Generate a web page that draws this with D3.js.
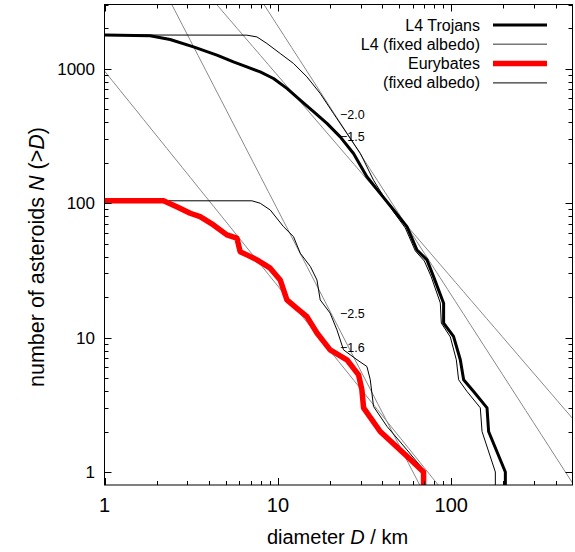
<!DOCTYPE html>
<html>
<head>
<meta charset="utf-8">
<script src="https://cdn.jsdelivr.net/npm/d3@7"></script>
<style>
  html, body { margin: 0; padding: 0; background: #fff; }
  svg { display: block; font-family: "Liberation Sans", Arial, Helvetica, sans-serif; }
</style>
</head>
<body>
<svg id="chart" width="575" height="552"></svg>
<script>
// Cumulative size distributions N(>D) — diameter D in km, count N
const l4Diam  = [1, 1.83, 2.39, 3.26, 4.45, 5.54, 6.62, 7.91, 9.43, 11.27, 13.45, 16.05, 19.18, 22.88, 27.3, 32.6, 38.9, 46.5, 55.5, 63.4, 72.4, 79.0, 90.3, 90.3, 103, 112.7, 117.8, 134.5, 160.7, 164.1, 205, 205];
const l4Count = [1780, 1754, 1648, 1452, 1260, 1123, 1031, 946, 845, 713, 583, 478, 392, 311, 234, 157, 118, 88.9, 66.8, 44.8, 37.8, 28.4, 18.0, 12.8, 10.2, 6.83, 4.85, 3.97, 3, 2, 1, 0.5];

const l4FixDiam  = [1, 6.62, 7.57, 8.64, 10.31, 12.3, 14.7, 17.54, 20.9, 25.0, 29.9, 35.6, 38.9, 46.5, 54.3, 62.0, 69.9, 76.7, 86.4, 87.6, 98.7, 106.9, 110.2, 123.2, 147, 150.4, 179.5, 179.5];
const l4FixCount = [1780, 1775, 1722, 1539, 1297, 1093, 869, 654, 465, 330, 234, 148, 123, 85.9, 65.3, 44.1, 37.1, 28.2, 18.1, 12.8, 10.1, 6.83, 4.85, 3.97, 3, 2, 1, 0.5];

const eurDiam  = [1, 2.19, 2.61, 3.12, 3.56, 4.25, 5.08, 5.80, 6.06, 6.62, 7.57, 9.03, 10.31, 11.27, 12.87, 14.7, 16.8, 20.0, 25.0, 29.2, 30.5, 31.2, 38.9, 55.5, 69.2, 69.2];
const eurCount = [104, 104, 94, 84, 79.2, 68.8, 58.0, 54.8, 43.5, 41.2, 37.8, 32.8, 26.8, 19.05, 16.5, 14.3, 10.8, 8.1, 6.83, 5.28, 4.09, 3, 2, 1.31, 1, 0.5];

const eurFixDiam  = [1, 7.08, 7.91, 9.03, 10.77, 12.3, 13.45, 15.4, 16.8, 17.54, 20.0, 21.9, 23.9, 28.6, 32.6, 34.1, 35.6, 42.6, 55.5, 70.8, 70.8];
const eurFixCount = [104, 104, 99.7, 88.9, 66.8, 56.3, 42.4, 33.7, 26.8, 19.05, 15.2, 11.4, 8.1, 6.83, 6.09, 4.85, 3.07, 2.18, 1.46, 1, 0.5];

// Power-law reference lines N = coef * D^slope
const fitSlopes = [-2.0, -1.5, -2.5, -1.6];
const fitCoefs  = [207000, 28000, 28000, 960];
const fitLabels = ["\u22122.0", "\u22121.5", "\u22122.5", "\u22121.6"];

// Axis ticks
const xMajorTicks = [1, 10, 100];
const yMajorTicks = [1, 10, 100, 1000];

const legendLabels = ["L4 Trojans", "L4 (fixed albedo)", "Eurybates", "(fixed albedo)"];

(function draw() {
  const svg = d3.select("#chart");
  const pL = 104.5, pR = 572.5, pT = 4.5, pB = 485;

  const x = d3.scaleLog().domain([1, 500]).range([pL, pR]);
  const y = d3.scaleLog().domain([0.8, 3000]).range([pB, pT]);

  svg.append("clipPath").attr("id", "plotClip")
    .append("rect").attr("x", pL).attr("y", pT)
    .attr("width", pR - pL).attr("height", pB - pT);

  const plot = svg.append("g").attr("clip-path", "url(#plotClip)");

  // Reference power laws across the full diameter range
  const line = d3.line().x(d => x(d[0])).y(d => y(d[1]));
  fitSlopes.forEach((k, i) => {
    const pts = d3.range(0, 61).map(j => {
      const D = Math.pow(10, j * Math.log10(500) / 60);
      return [D, fitCoefs[i] * Math.pow(D, k)];
    });
    plot.append("path").attr("d", line(pts))
      .attr("fill", "none").attr("stroke", "#888").attr("stroke-width", 1);
  });

  function series(ds, ns, color, width) {
    const pts = ds.map((d, i) => [d, ns[i]]);
    plot.append("path").attr("d", line(pts))
      .attr("fill", "none").attr("stroke", color).attr("stroke-width", width)
      .attr("stroke-linejoin", "round");
  }
  series(l4FixDiam, l4FixCount, "#000", 1);
  series(eurFixDiam, eurFixCount, "#000", 1);
  series(l4Diam, l4Count, "#000", 3);
  series(eurDiam, eurCount, "#f00", 5.5);

  // Slope annotations
  const labelPos = [[340, 119], [340, 141], [340, 318], [340, 352]];
  fitLabels.forEach((t, i) => {
    svg.append("text").attr("x", labelPos[i][0]).attr("y", labelPos[i][1])
      .attr("font-size", 12.5).attr("fill", "#000").text(t);
  });

  // Frame and tick marks (inward, mirrored)
  const axes = svg.append("g").attr("stroke", "#000").attr("stroke-width", 1);
  axes.append("rect").attr("x", pL).attr("y", pT)
    .attr("width", pR - pL).attr("height", pB - pT).attr("fill", "none");

  const xMinor = [];
  [1, 10, 100].forEach(b => d3.range(2, 10).forEach(m => { if (b * m < 500) xMinor.push(b * m); }));
  const yMinor = [];
  [1, 10, 100, 1000].forEach(b => d3.range(2, 10).forEach(m => { if (b * m <= 3000) yMinor.push(b * m); }));

  function xTick(v, len) {
    const px = Math.round(x(v)) + 0.5;
    axes.append("line").attr("x1", px).attr("x2", px).attr("y1", pB).attr("y2", pB - len);
    axes.append("line").attr("x1", px).attr("x2", px).attr("y1", pT).attr("y2", pT + len);
  }
  function yTick(v, len) {
    const py = Math.round(y(v)) + 0.5;
    axes.append("line").attr("x1", pL).attr("x2", pL + len).attr("y1", py).attr("y2", py);
    axes.append("line").attr("x1", pR).attr("x2", pR - len).attr("y1", py).attr("y2", py);
  }
  xMajorTicks.forEach(v => xTick(v, 7));
  xMinor.forEach(v => xTick(v, 4));
  yMajorTicks.forEach(v => yTick(v, 7));
  yMinor.forEach(v => yTick(v, 4));

  // Tick labels
  xMajorTicks.forEach(v => {
    svg.append("text").attr("x", x(v)).attr("y", 512).attr("text-anchor", "middle")
      .attr("font-size", 20).text(v);
  });
  yMajorTicks.forEach(v => {
    svg.append("text").attr("x", 95).attr("y", y(v) + 6.2).attr("text-anchor", "end")
      .attr("font-size", 17).text(v);
  });

  // Axis titles
  const xt = svg.append("text").attr("x", 337.5).attr("y", 544).attr("text-anchor", "middle")
    .attr("font-size", 20);
  xt.append("tspan").text("diameter ");
  xt.append("tspan").attr("font-style", "italic").text("D");
  xt.append("tspan").text(" / km");

  const yt = svg.append("text").attr("transform", "translate(44,257) rotate(-90)")
    .attr("text-anchor", "middle").attr("font-size", 21.5);
  yt.append("tspan").text("number of asteroids ");
  yt.append("tspan").attr("font-style", "italic").text("N");
  yt.append("tspan").text(" (>");
  yt.append("tspan").attr("font-style", "italic").text("D");
  yt.append("tspan").text(")");

  // Legend
  const legStyles = [["#000", 3], ["#777", 1.5], ["#f00", 5.5], ["#000", 1]];
  legendLabels.forEach((t, i) => {
    const cy = 25 + i * 19.3;
    svg.append("text").attr("x", 480).attr("y", cy + 5.5).attr("text-anchor", "end")
      .attr("font-size", 16).text(t);
    svg.append("line").attr("x1", 493).attr("x2", 547).attr("y1", cy).attr("y2", cy)
      .attr("stroke", legStyles[i][0]).attr("stroke-width", legStyles[i][1]);
  });
})();
</script>
</body>
</html>
